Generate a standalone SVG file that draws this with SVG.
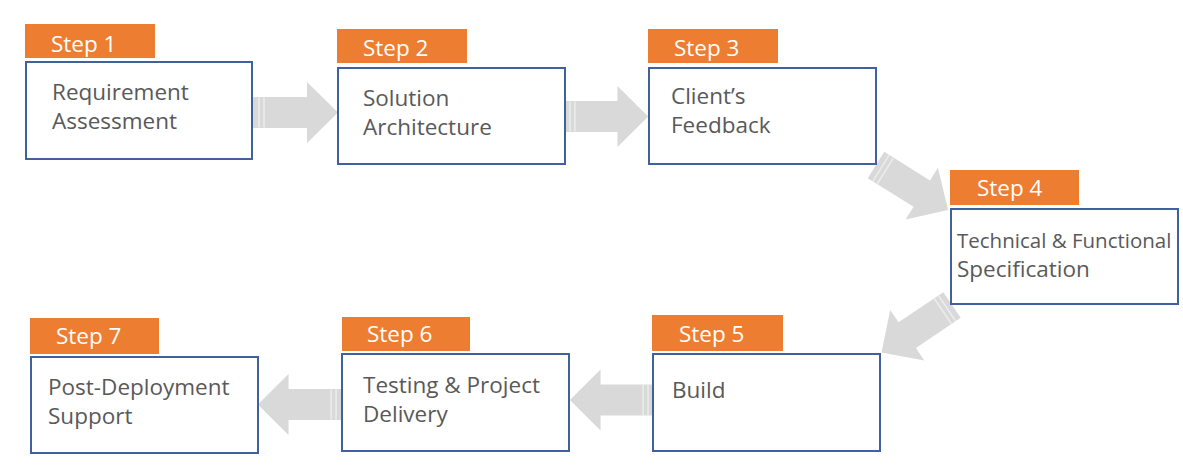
<svg xmlns="http://www.w3.org/2000/svg" width="1183" height="476" viewBox="0 0 1183 476">
<style>
.tag{fill:#ED7D31}
.box{fill:#FFFFFF;stroke:#41609E;stroke-width:2}
.st{font-family:"Open Sans","Noto Sans",sans-serif;font-size:22.5px;fill:#FFFFFF}
.tx{font-family:"Open Sans","Noto Sans",sans-serif;font-size:22.5px;fill:#595959}
.arr{fill:#D9D9D9}
.stripe{stroke:#EDEDED;stroke-width:1.5}
</style>
<defs>
<g id="arrow">
<polygon class="arr" points="0,-15.5 54,-15.5 54,-30.5 85,0 54,30.5 54,15.5 0,15.5"/>
<line class="stripe" x1="6" y1="-15" x2="6" y2="15"/>
<line class="stripe" x1="11" y1="-15" x2="11" y2="15"/>
</g>
</defs>
<g id="connectors">
<use href="#arrow" transform="translate(253,112.5)"/>
<use href="#arrow" transform="translate(564,116.5) scale(0.99,1)"/>
<use href="#arrow" transform="translate(876,165) rotate(32)"/>
<use href="#arrow" transform="translate(952,305) rotate(146)"/>
<use href="#arrow" transform="translate(654,400) rotate(180) scale(0.99,1)"/>
<use href="#arrow" transform="translate(342,404.5) rotate(180) scale(0.99,1)"/>
</g>
<g id="step1">
<rect class="tag" x="25" y="24" width="130" height="34"/>
<text class="st" x="51" y="52">Step 1</text>
<rect class="box" x="26" y="62" width="226" height="97"/>
<text class="tx" x="52" y="100">Requirement</text>
<text class="tx" x="52" y="129">Assessment</text>
</g>
<g id="step2">
<rect class="tag" x="337" y="29" width="130" height="34"/>
<text class="st" x="363" y="56">Step 2</text>
<rect class="box" x="338" y="68" width="227" height="96"/>
<text class="tx" x="363" y="106">Solution</text>
<text class="tx" x="363" y="135">Architecture</text>
</g>
<g id="step3">
<rect class="tag" x="648" y="29" width="130" height="34"/>
<text class="st" x="674" y="56">Step 3</text>
<rect class="box" x="649" y="68" width="227" height="96"/>
<text class="tx" x="671" y="104">Client’s</text>
<text class="tx" x="671" y="133">Feedback</text>
</g>
<g id="step4">
<rect class="tag" x="950" y="170" width="129" height="35"/>
<text class="st" x="977" y="196">Step 4</text>
<rect class="box" x="951" y="209" width="227" height="95"/>
<text class="tx" x="957" y="248" style="font-size:20.5px">Technical &amp; Functional</text>
<text class="tx" x="957" y="277">Specification</text>
</g>
<g id="step5">
<rect class="tag" x="652" y="315" width="131" height="36"/>
<text class="st" x="679" y="342">Step 5</text>
<rect class="box" x="653" y="354" width="227" height="97"/>
<text class="tx" x="672" y="398">Build</text>
</g>
<g id="step6">
<rect class="tag" x="342" y="317" width="128" height="34"/>
<text class="st" x="367" y="342">Step 6</text>
<rect class="box" x="342" y="354" width="227" height="97"/>
<text class="tx" x="363" y="393">Testing &amp; Project</text>
<text class="tx" x="363" y="422">Delivery</text>
</g>
<g id="step7">
<rect class="tag" x="30" y="318" width="129" height="36"/>
<text class="st" x="56" y="344">Step 7</text>
<rect class="box" x="31" y="357" width="227" height="96"/>
<text class="tx" x="48" y="395">Post-Deployment</text>
<text class="tx" x="48" y="424">Support</text>
</g>
</svg>
